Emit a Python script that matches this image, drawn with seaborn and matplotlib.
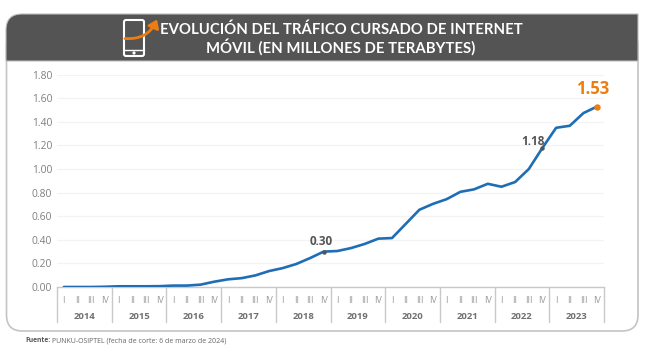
#!/usr/bin/env python3
import pandas as pd
import matplotlib.pyplot as plt
import seaborn as sns
from matplotlib.patches import FancyArrowPatch, FancyBboxPatch, PathPatch, Circle
from matplotlib.path import Path
from matplotlib.transforms import blended_transform_factory

# Data
years = [2014, 2015, 2016, 2017, 2018, 2019, 2020, 2021, 2022, 2023]
quarters = ["I", "II", "III", "IV"]
traffic = [
    0.000, 0.000, 0.000, 0.002,
    0.006, 0.006, 0.006, 0.007,
    0.012, 0.012, 0.020, 0.045,
    0.065, 0.075, 0.098, 0.135,
    0.160, 0.195, 0.245, 0.300,
    0.305, 0.330, 0.365, 0.410,
    0.415, 0.535, 0.655, 0.705,
    0.745, 0.807, 0.828, 0.875,
    0.850, 0.890, 1.000, 1.180,
    1.350, 1.367, 1.475, 1.530,
]
y_ticks = [0.0, 0.2, 0.4, 0.6, 0.8, 1.0, 1.2, 1.4, 1.6, 1.8]
highlights = {19: "0.30", 35: "1.18"}
last_label = "1.53"
title_lines = ["EVOLUCIÓN DEL TRÁFICO CURSADO DE INTERNET",
               "MÓVIL (EN MILLONES DE TERABYTES)"]

BLUE = "#1f6db5"
ORANGE = "#ee7d11"
DARK = "#555454"
GREY = "#7f7f7f"
LINE = "#c9c9c9"

W, H = 645, 363

sns.set_theme(style="white")
plt.rcParams["font.family"] = ["Open Sans", "DejaVu Sans"]

fig = plt.figure(figsize=(W / 100, H / 100), dpi=100, facecolor="white")

# Background layer in pixel coordinates: frame, header, icon
bg = fig.add_axes([0, 0, 1, 1], zorder=0)
bg.set_xlim(0, W)
bg.set_ylim(H, 0)
bg.axis("off")

frame = FancyBboxPatch((6.5, 30), 631.5, 301, boxstyle="round,pad=0,rounding_size=16",
                       facecolor="white", edgecolor="#c4c4c4", linewidth=1.2)
bg.add_patch(frame)

header_path = Path(
    [(6, 61), (6, 30), (6, 14), (22, 14), (638, 14), (638, 61), (6, 61)],
    [Path.MOVETO, Path.LINETO, Path.CURVE3, Path.CURVE3, Path.LINETO, Path.LINETO, Path.CLOSEPOLY],
)
bg.add_patch(PathPatch(header_path, facecolor=DARK, edgecolor="#bdbdbd", linewidth=0.8))

# Phone icon
bg.add_patch(FancyBboxPatch((124, 20), 20, 36, boxstyle="round,pad=0,rounding_size=2",
                            facecolor="none", edgecolor="white", linewidth=1.5))
bg.plot([124, 144], [50, 50], color="white", lw=1)
bg.add_patch(Circle((134, 53), 0.9, color="white"))
bg.add_patch(FancyArrowPatch((125, 38.5), (157, 19.5), connectionstyle="arc3,rad=0.35",
                             arrowstyle="-|>,head_length=3.6,head_width=2.6",
                             color=ORANGE, linewidth=2, shrinkA=0, shrinkB=0, mutation_scale=1.3,
                             zorder=5))

for line, y_px in zip(title_lines, [30, 47]):
    bg.text(341, y_px, line, ha="center", va="center", color="white",
            fontsize=10.7, fontweight="bold", family=["Lato", "DejaVu Sans"])

bg.text(25, 341, "Fuente:", ha="left", va="center", fontsize=4.9, fontweight="bold", color="#555555")
bg.text(51.5, 341, "PUNKU-OSIPTEL (fecha de corte: 6 de marzo de 2024)",
        ha="left", va="center", fontsize=5.0, color="#666666")

# Plot area: 1.80 at y=74.7 px, 0.00 at y=287 px
ax = fig.add_axes([57 / W, 1 - 287 / H, (604 - 57) / W, (287 - 74.7) / H], zorder=1)
ax.patch.set_alpha(0)

df = pd.DataFrame({"idx": range(len(traffic)), "traffic": traffic})
sns.lineplot(data=df, x="idx", y="traffic", color=BLUE, linewidth=1.9, ax=ax, zorder=3)

ax.set_xlim(-0.5, len(traffic) - 0.5)
ax.set_ylim(0, 1.8)
ax.set_xlabel("")
ax.set_ylabel("")
sns.despine(ax=ax, left=True, top=True, right=True)
ax.spines["bottom"].set_color(LINE)
ax.spines["bottom"].set_linewidth(1)

ax.set_yticks(y_ticks)
ax.set_yticklabels([f"{v:.2f}" for v in y_ticks])
ax.tick_params(axis="y", length=0, pad=3.5, labelsize=7.4, labelcolor=GREY)
ax.grid(axis="y", color="#f3f3f3", linewidth=0.9)
ax.set_axisbelow(True)

# Quarter labels plus year groups
ax.set_xticks(range(len(traffic)))
ax.set_xticklabels(quarters * len(years))
ax.tick_params(axis="x", length=0, pad=6.5, labelsize=6.4, labelcolor="#999999")

trans = blended_transform_factory(ax.transData, ax.transAxes)
for i, year in enumerate(years):
    ax.text(i * 4 + 1.5, -0.137, str(year), transform=trans, ha="center", va="center",
            fontsize=6.8, fontweight="bold", color="#707070")
for i in range(len(years) + 1):
    ax.plot([i * 4 - 0.5, i * 4 - 0.5], [0, -0.165], transform=trans, color=LINE,
            linewidth=1, clip_on=False)

# Highlighted points
for idx, label in highlights.items():
    ax.plot(idx, traffic[idx], "o", color="#555555", markersize=2.2, zorder=4)
    ax.annotate(label, (idx, traffic[idx]), xytext=(-2 if idx == 19 else 2, 10 if idx == 19 else 6),
                textcoords="offset pixels", ha="center" if idx == 19 else "right", va="center",
                fontsize=8.5, fontweight="bold", color="#555555", zorder=5)
ax.plot(39, traffic[39], "o", color=ORANGE, markersize=3.6, zorder=4, clip_on=False)
ax.annotate(last_label, (39, traffic[39]), xytext=(-5, 18), textcoords="offset pixels",
            ha="center", va="center", fontsize=12, fontweight="bold", color=ORANGE)

fig.savefig("out.png", dpi=100)
plt.close(fig)
